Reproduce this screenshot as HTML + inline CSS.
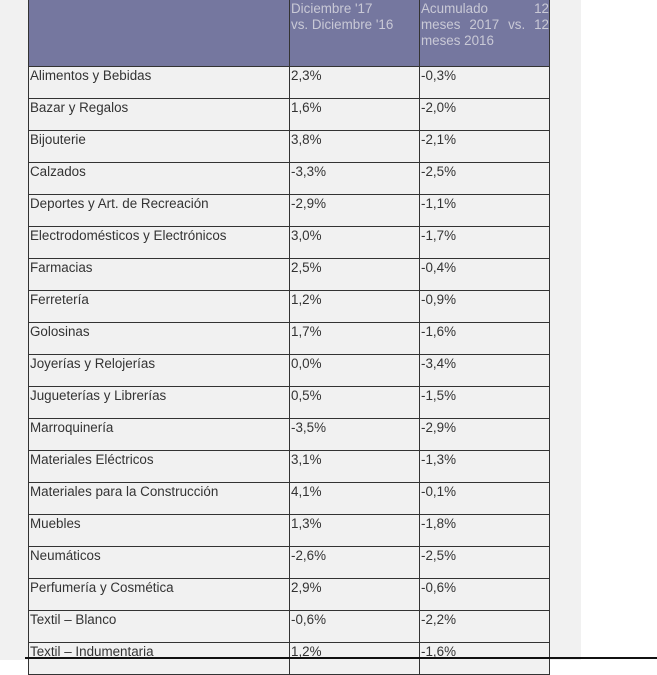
<!DOCTYPE html>
<html><head><meta charset="utf-8"><style>
html,body{margin:0;padding:0;width:657px;height:660px;overflow:hidden;background:#fff;}
.bg{position:absolute;left:0;top:0;width:581px;height:660px;background:#f1f1f1;}
table{position:absolute;left:28px;top:-4px;border-collapse:collapse;font-family:"Liberation Sans",Arial,sans-serif;font-size:13.4px;color:#333;}
td{border:1.5px solid #333;height:30px;vertical-align:top;padding:1px 0 0 1px;line-height:16px;background:#f1f1f1;}
td.c0{width:259px}td.c1{width:128px}td.c2{width:128px}
tr.h td{background:#75779f;color:#c9c9d6;height:65px;padding-top:4px;}
.just{text-align:justify;text-align-last:justify;}
.line{position:absolute;left:25px;top:657px;width:632px;height:2px;background:#111;}
</style></head><body>
<div class="bg"></div>
<table>
<tr class="h"><td class="c0"></td><td class="c1">Diciembre '17<br>vs. Diciembre '16</td><td class="c2"><div class="just">Acumulado 12</div><div class="just">meses 2017 vs. 12</div>meses 2016</td></tr>
<tr><td>Alimentos y Bebidas</td><td>2,3%</td><td>-0,3%</td></tr>
<tr><td>Bazar y Regalos</td><td>1,6%</td><td>-2,0%</td></tr>
<tr><td>Bijouterie</td><td>3,8%</td><td>-2,1%</td></tr>
<tr><td>Calzados</td><td>-3,3%</td><td>-2,5%</td></tr>
<tr><td>Deportes y Art. de Recreación</td><td>-2,9%</td><td>-1,1%</td></tr>
<tr><td>Electrodomésticos y Electrónicos</td><td>3,0%</td><td>-1,7%</td></tr>
<tr><td>Farmacias</td><td>2,5%</td><td>-0,4%</td></tr>
<tr><td>Ferretería</td><td>1,2%</td><td>-0,9%</td></tr>
<tr><td>Golosinas</td><td>1,7%</td><td>-1,6%</td></tr>
<tr><td>Joyerías y Relojerías</td><td>0,0%</td><td>-3,4%</td></tr>
<tr><td>Jugueterías y Librerías</td><td>0,5%</td><td>-1,5%</td></tr>
<tr><td>Marroquinería</td><td>-3,5%</td><td>-2,9%</td></tr>
<tr><td>Materiales Eléctricos</td><td>3,1%</td><td>-1,3%</td></tr>
<tr><td>Materiales para la Construcción</td><td>4,1%</td><td>-0,1%</td></tr>
<tr><td>Muebles</td><td>1,3%</td><td>-1,8%</td></tr>
<tr><td>Neumáticos</td><td>-2,6%</td><td>-2,5%</td></tr>
<tr><td>Perfumería y Cosmética</td><td>2,9%</td><td>-0,6%</td></tr>
<tr><td>Textil – Blanco</td><td>-0,6%</td><td>-2,2%</td></tr>
<tr><td>Textil – Indumentaria</td><td>1,2%</td><td>-1,6%</td></tr>
</table>
<div class="line"></div>
</body></html>
